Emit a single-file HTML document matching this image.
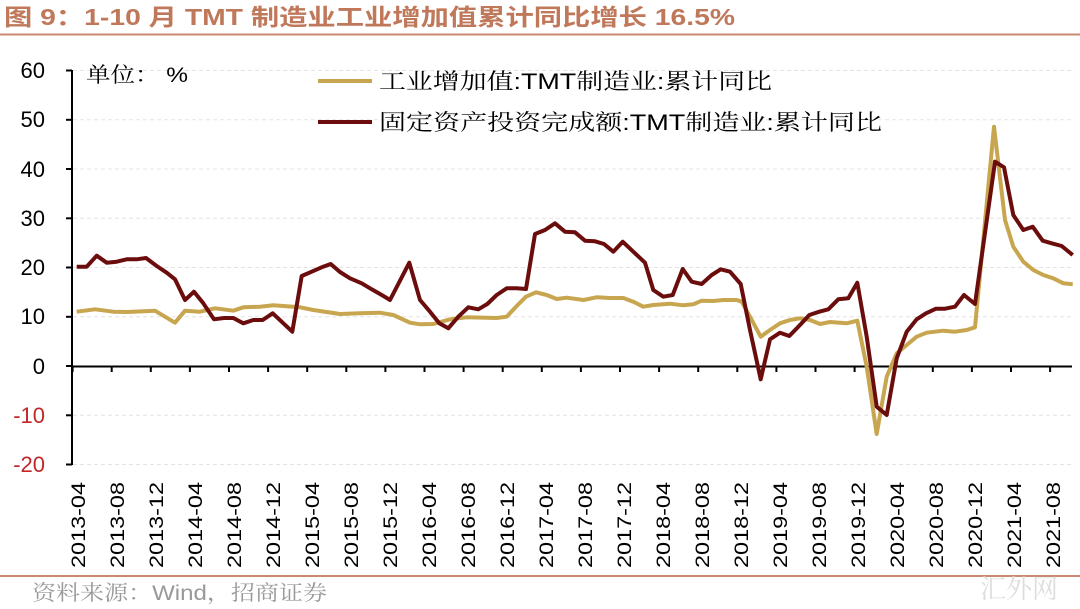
<!DOCTYPE html>
<html><head><meta charset="utf-8"><style>
body{margin:0;background:#fff;}
svg{display:block;font-family:"Liberation Sans","Noto Sans CJK SC",sans-serif;}
.cj{font-family:"Liberation Sans","Noto Serif CJK SC",serif;}
</style></head><body>
<svg width="1080" height="609" viewBox="0 0 1080 609" xmlns="http://www.w3.org/2000/svg">
<text x="4" y="25" font-size="23" font-weight="bold" fill="#c0785a" textLength="731" lengthAdjust="spacingAndGlyphs">图 9：1-10 月 TMT 制造业工业增加值累计同比增长 16.5%</text>
<line x1="0" y1="34.5" x2="1080" y2="34.5" stroke="#c98a72" stroke-width="2"/>
<g stroke="#e4e4e4" stroke-width="1" stroke-dasharray="4,3">
<line x1="73" y1="70.5" x2="1072" y2="70.5"/><line x1="73" y1="119.8" x2="1072" y2="119.8"/>
<line x1="73" y1="169" x2="1072" y2="169"/><line x1="73" y1="218.3" x2="1072" y2="218.3"/>
<line x1="73" y1="267.5" x2="1072" y2="267.5"/><line x1="73" y1="316.8" x2="1072" y2="316.8"/>
<line x1="73" y1="415.3" x2="1072" y2="415.3"/><line x1="73" y1="464.5" x2="1072" y2="464.5"/>
</g>
<g stroke="#000" stroke-width="2">
<line x1="72" y1="70" x2="72" y2="465"/>
<line x1="66" y1="70.5" x2="72" y2="70.5"/><line x1="66" y1="119.8" x2="72" y2="119.8"/>
<line x1="66" y1="169" x2="72" y2="169"/><line x1="66" y1="218.3" x2="72" y2="218.3"/>
<line x1="66" y1="267.5" x2="72" y2="267.5"/><line x1="66" y1="316.8" x2="72" y2="316.8"/>
<line x1="66" y1="366" x2="72" y2="366"/><line x1="66" y1="415.3" x2="72" y2="415.3"/>
<line x1="66" y1="464.5" x2="72" y2="464.5"/>
<line x1="72" y1="366.5" x2="1072" y2="366.5"/>
</g>
<g id="xt" stroke="#000" stroke-width="2"></g>
<g font-size="22" text-anchor="end" fill="#000">
<text x="45" y="78">60</text><text x="45" y="127">50</text><text x="45" y="177">40</text>
<text x="45" y="226">30</text><text x="45" y="275">20</text><text x="45" y="324">10</text>
<text x="45" y="374">0</text><text x="45" y="423" fill="#c0282a">-10</text><text x="45" y="472" fill="#c0282a">-20</text>
</g>
<text class="cj" x="86" y="82" font-size="21" textLength="102" lengthAdjust="spacingAndGlyphs">单位： %</text>
<line x1="318" y1="81" x2="372" y2="81" stroke="#c8a54f" stroke-width="4"/>
<text class="cj" x="379" y="89" font-size="22" textLength="393" lengthAdjust="spacingAndGlyphs">工业增加值:TMT制造业:累计同比</text>
<line x1="318" y1="122" x2="372" y2="122" stroke="#6b0d0d" stroke-width="4"/>
<text class="cj" x="379" y="130" font-size="22" textLength="503" lengthAdjust="spacingAndGlyphs">固定资产投资完成额:TMT制造业:累计同比</text>
<g id="xl" font-size="19"></g>
<polyline fill="none" stroke="#c8a54f" stroke-width="4" stroke-linejoin="round" points="76.7,311.7 95,309.3 113.3,311.7 126.7,312 155,310.7 175,322.7 185,310.7 200,311.7 215,308.3 233.3,310.7 243.3,307.3 260,306.7 273.3,305.3 300,307.3 313.3,310 340,314 360,313.3 380,312.7 393.3,315 410,322.7 420,324.3 433.3,324 450,319.3 466.7,317.3 496.7,318 506.7,316.7 516.7,306 526,296.7 536,292.3 546.7,295 556.7,299 566.7,297.7 583.3,300 596.7,297.3 610,298 623.3,298 633.3,301.7 643.3,306.7 653.3,305 670,303.7 683.3,305.3 693.3,304.3 701.7,300.7 713.3,301 723.3,300 736.7,300 741.7,301.7 750,316.7 760.7,336.7 770,330 780,323.3 790,320 800,318.3 810,320 820,324 830,322 846.7,323.3 857.3,320.7 866.7,366.7 876.7,434 886.7,376.7 896.7,353.3 906.7,345 916.7,336.7 926.7,332.7 943.3,330.7 955,331.7 966.7,330 975,327.3 994,126.7 1005,220 1013.3,246.7 1023.3,261.7 1033.3,270 1043.3,275 1053.3,278.3 1063.3,283.3 1072.7,284.3"/>
<polyline fill="none" stroke="#6b0d0d" stroke-width="4" stroke-linejoin="round" points="76.7,266.7 86.7,266.7 96.7,255.7 106.7,262.7 116.7,261.7 126.7,259.3 136.7,259.3 146,258 156.7,266 166.7,272.7 175,279.3 185,300 194,291.7 203.3,303.3 214,319.3 224,318 233.3,318 243.3,323.3 253.3,320 262.7,320 272.7,313.3 282.7,322.7 292.3,331.7 301.7,276 311.7,271.7 321.7,267.3 330.7,264 340,272 350,278.3 361.7,283.3 371.7,289.3 380,294 390,300 409.3,262.7 420,300 430,311.7 439.3,323.3 448.3,328.3 458.3,316.7 468.3,307.3 478.3,309.3 487.3,304 496.7,295 506.7,288.3 516.7,288.3 526,289 535,234 545,230 555,223.3 565,231.7 575,232.3 585,240.7 595,241.3 604,244 613.3,251.7 622.7,241.7 633.3,251.7 645,262.7 653.3,290 663.3,296.7 672.7,295 682.7,269 691.7,281.7 701.7,284 711.7,275 720.7,269.3 730,271.7 740.7,284 750,330 760.7,379.3 770,339.3 780,332.7 789.3,336 800,325 809.3,315 819.3,311.7 828.3,309.3 838.3,299.3 848.3,298.3 857.3,282.7 866.7,336.7 876.7,406.7 886.7,415 896.7,358.3 906.7,331.7 916.7,319.3 926,313.3 936,308.7 945,308.7 955,306.7 964,295 975,304 995,161.7 1004,167.3 1013.3,215 1023.3,230 1032.7,226.7 1042.7,240.7 1051.7,243.3 1061.7,246 1072.7,255"/>
<line x1="0" y1="576" x2="1080" y2="576" stroke="#c98a72" stroke-width="2"/>
<text class="cj" x="32" y="600" font-size="21" fill="#999" textLength="295" lengthAdjust="spacingAndGlyphs">资料来源：Wind，招商证券</text>
<text class="cj" x="980" y="598" font-size="26" fill="#ddd">汇外网</text>
<script>
var xt=document.getElementById('xt'),xl=document.getElementById('xl'),ns='http://www.w3.org/2000/svg';
for(var k=0;k<=25;k++){var x=72.6+39.1*k;if(x<1072){var l=document.createElementNS(ns,'line');l.setAttribute('x1',x);l.setAttribute('x2',x);l.setAttribute('y1',366);l.setAttribute('y2',372);xt.appendChild(l);}}
var m=[4,8,12];
for(var k=0;k<26;k++){var yr=2013+Math.floor(k/3);var mo=m[k%3];var s=yr+'-'+(mo<10?'0'+mo:mo);var cx=78+39*k;
var t=document.createElementNS(ns,'text');t.setAttribute('transform','translate('+(cx+7)+',568) rotate(-90)');t.setAttribute('textLength','86');t.setAttribute('lengthAdjust','spacingAndGlyphs');t.textContent=s;xl.appendChild(t);}
</script>
</svg>
</body></html>
